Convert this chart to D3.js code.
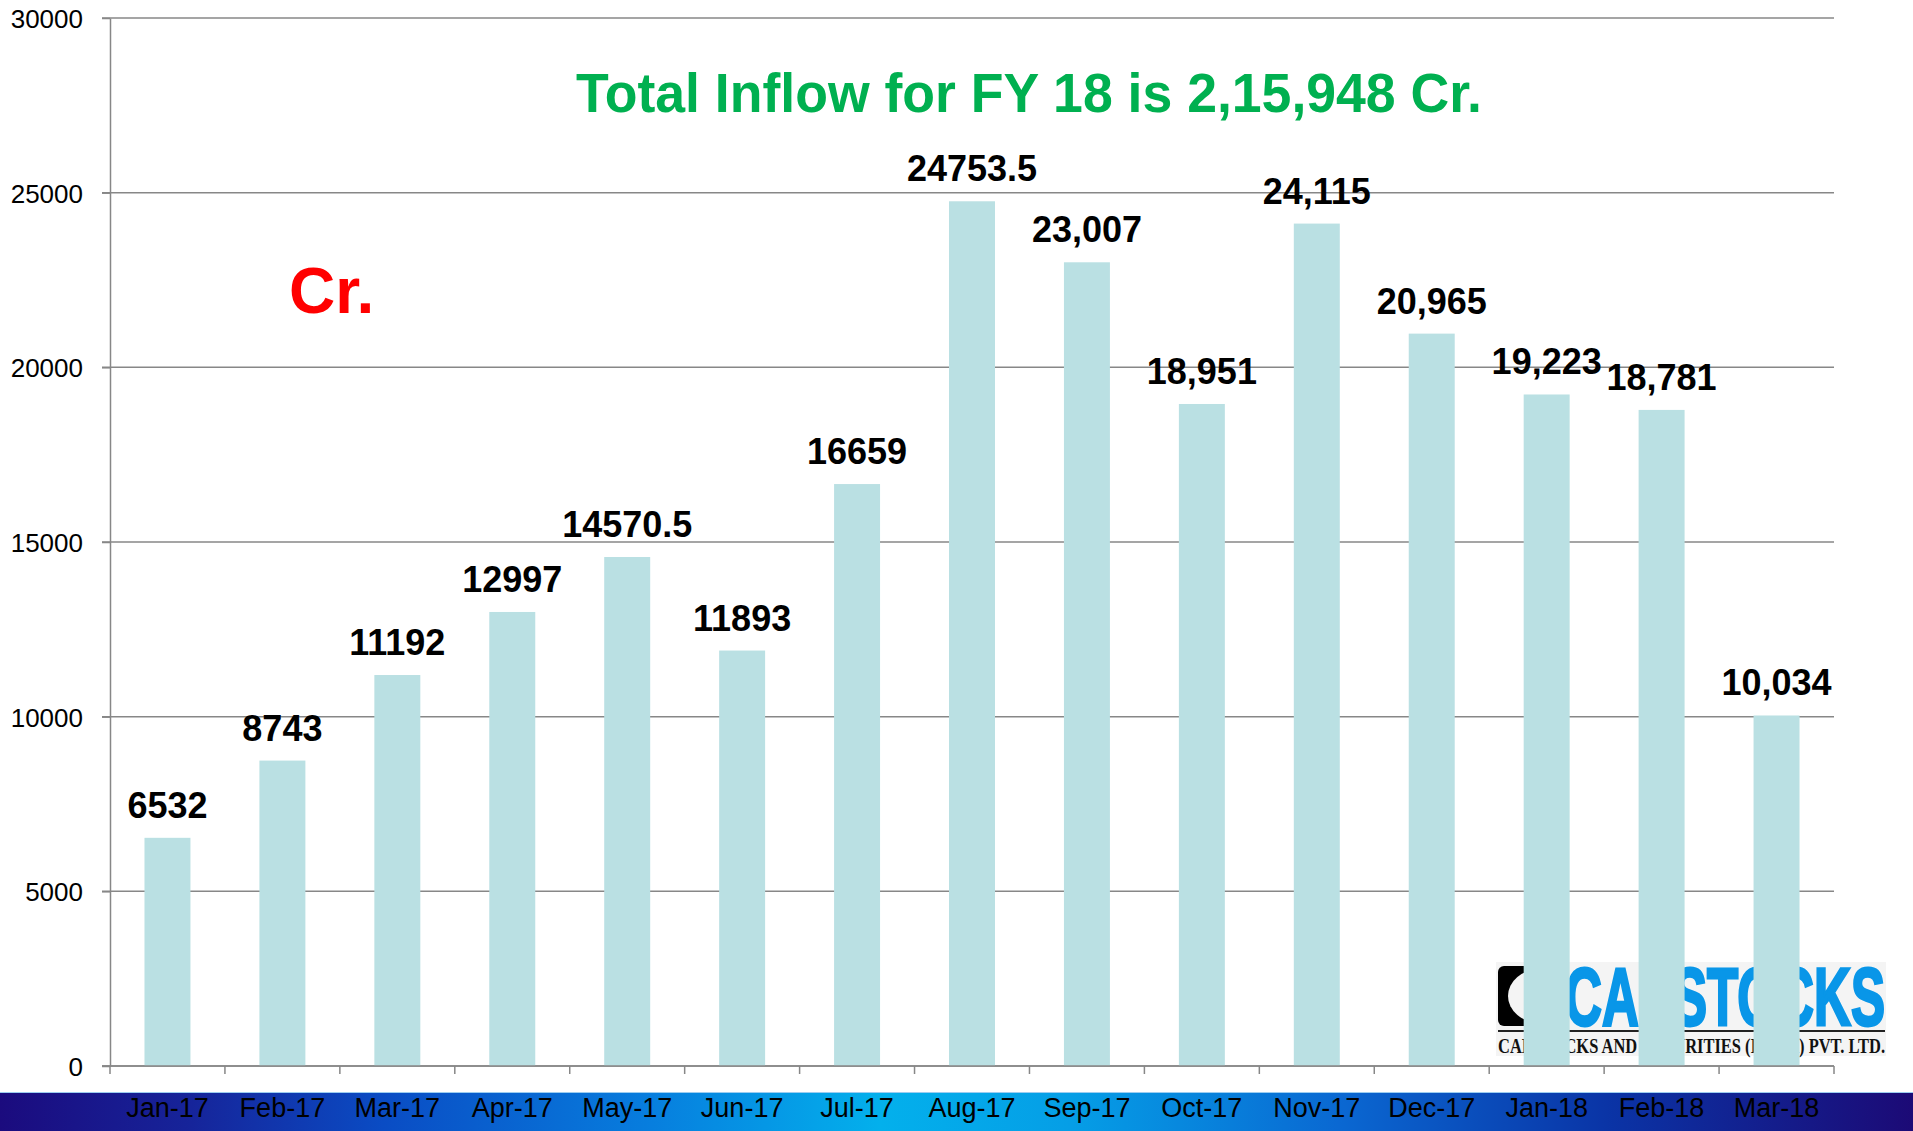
<!DOCTYPE html>
<html>
<head>
<meta charset="utf-8">
<script src="https://cdn.jsdelivr.net/npm/d3@7"></script>
<style>
  body { margin: 0; background: #fff; }
  svg { display: block; font-family: "Liberation Sans", Arial, sans-serif; }
</style>
</head>
<body>
<div id="chart"></div>
<script>
// data
const months = ["Jan-17", "Feb-17", "Mar-17", "Apr-17", "May-17", "Jun-17", "Jul-17", "Aug-17",
  "Sep-17", "Oct-17", "Nov-17", "Dec-17", "Jan-18", "Feb-18", "Mar-18"];
const inflow = [6532, 8743, 11192, 12997, 14570.5, 11893, 16659, 24753.5,
  23007, 18951, 24115, 20965, 19223, 18781, 10034];
const valueLabels = ["6532", "8743", "11192", "12997", "14570.5", "11893", "16659", "24753.5",
  "23,007", "18,951", "24,115", "20,965", "19,223", "18,781", "10,034"];
const yTicks = [0, 5000, 10000, 15000, 20000, 25000, 30000];
const titleText = "Total Inflow for FY 18 is 2,15,948 Cr.";
const unitText = "Cr.";

const width = 1913, height = 1131;
const plotLeft = 110, plotRight = 1834, plotTop = 18, plotBottom = 1066;
const gridColor = "#878787";

const svg = d3.select("#chart").append("svg")
  .attr("width", width)
  .attr("height", height);

const x = d3.scaleBand()
  .domain(months)
  .range([plotLeft, plotRight])
  .paddingInner(0.6)
  .paddingOuter(0.3);

const y = d3.scaleLinear()
  .domain([0, 30000])
  .range([plotBottom, plotTop]);

const defs = svg.append("defs");
const grad = defs.append("linearGradient").attr("id", "band");
[[0, "#1b0b7e"], [0.1, "#16249a"], [0.2, "#0a4cc4"], [0.34, "#077ede"], [0.46, "#03b0ec"],
 [0.56, "#059ee6"], [0.7, "#0a68d2"], [0.84, "#0a34a6"], [1, "#1c0a76"]]
  .forEach(([o, c]) => grad.append("stop").attr("offset", o).attr("stop-color", c));

// gridlines
svg.append("g")
  .attr("class", "grid")
  .selectAll("line")
  .data(yTicks)
  .enter().append("line")
    .attr("x1", plotLeft - 8)
    .attr("x2", plotRight)
    .attr("y1", d => y(d))
    .attr("y2", d => y(d))
    .attr("stroke", gridColor)
    .attr("stroke-width", 1.5);

// logo sits behind the bars
const logo = svg.append("g").attr("class", "logo");
logo.append("rect")
  .attr("x", 1496).attr("y", 962).attr("width", 390).attr("height", 94)
  .attr("fill", "#f4f4f4");
logo.append("rect").attr("x", 1498).attr("y", 966).attr("width", 40).attr("height", 60).attr("rx", 6).attr("fill", "#000");
logo.append("ellipse").attr("cx", 1540).attr("cy", 996).attr("rx", 32).attr("ry", 27).attr("fill", "#f4f4f4");
logo.append("text")
  .attr("x", 1565).attr("y", 1025)
  .attr("textLength", 320).attr("lengthAdjust", "spacingAndGlyphs")
  .style("font-size", "82px").style("font-weight", "bold").style("fill", "#0996e8")
  .style("stroke", "#0996e8").style("stroke-width", 3)
  .text("CAPSTOCKS");
logo.append("line")
  .attr("x1", 1498).attr("x2", 1885).attr("y1", 1031).attr("y2", 1031)
  .attr("stroke", "#222").attr("stroke-width", 2);
logo.append("text")
  .attr("x", 1498).attr("y", 1053)
  .attr("textLength", 387).attr("lengthAdjust", "spacingAndGlyphs")
  .style("font-family", "'Liberation Serif', 'DejaVu Serif', serif")
  .style("font-size", "21px").style("font-weight", "bold").style("fill", "#111")
  .text("CAPSTOCKS AND SECURITIES (INDIA) PVT. LTD.");

// bars
svg.append("g")
  .attr("class", "bars")
  .selectAll("rect")
  .data(inflow)
  .enter().append("rect")
    .attr("x", (d, i) => x(months[i]))
    .attr("y", d => y(d))
    .attr("width", x.bandwidth())
    .attr("height", d => y(0) - y(d))
    .attr("fill", "#bae0e3");

// y axis
const yAxis = svg.append("g")
  .attr("transform", `translate(${plotLeft},0)`)
  .call(d3.axisLeft(y).tickValues(yTicks).tickSizeInner(8).tickSizeOuter(0).tickPadding(19).tickFormat(d3.format("d")));
yAxis.select(".domain").attr("stroke", gridColor).attr("stroke-width", 1.5);
yAxis.selectAll(".tick line").attr("stroke", gridColor).attr("stroke-width", 1.5);
yAxis.selectAll(".tick text")
  .attr("fill", "#000")
  .style("font-size", "26px")
  .attr("dy", "0.36em");

// x axis: boundary ticks plus month labels in the bottom band
svg.append("rect")
  .attr("x", 0).attr("y", 1092).attr("width", width).attr("height", height - 1092)
  .attr("fill", "url(#band)");
svg.append("line")
  .attr("x1", 0).attr("x2", width).attr("y1", 1092.5).attr("y2", 1092.5)
  .attr("stroke", "#9ccdf0").attr("stroke-width", 1);

const xAxis = svg.append("g")
  .attr("transform", `translate(0,${plotBottom})`)
  .call(d3.axisBottom(x).tickSize(0).tickSizeOuter(0));
xAxis.select(".domain").remove();
xAxis.selectAll(".tick text")
  .attr("y", 51)
  .attr("dy", 0)
  .attr("fill", "#000")
  .style("font-size", "27px");

const step = x.step();
svg.append("line")
  .attr("x1", plotLeft - 8).attr("x2", plotRight)
  .attr("y1", plotBottom).attr("y2", plotBottom)
  .attr("stroke", gridColor).attr("stroke-width", 1.5);
svg.append("g")
  .selectAll("line")
  .data(d3.range(months.length + 1))
  .enter().append("line")
    .attr("x1", i => plotLeft + i * step)
    .attr("x2", i => plotLeft + i * step)
    .attr("y1", plotBottom)
    .attr("y2", plotBottom + 8)
    .attr("stroke", gridColor)
    .attr("stroke-width", 1.5);

// value labels
svg.append("g")
  .selectAll("text")
  .data(inflow)
  .enter().append("text")
    .attr("x", (d, i) => x(months[i]) + x.bandwidth() / 2)
    .attr("y", d => y(d) - 20)
    .attr("text-anchor", "middle")
    .style("font-size", "36px")
    .style("font-weight", "bold")
    .style("fill", "#000")
    .text((d, i) => valueLabels[i]);

// title and unit
svg.append("text")
  .attr("x", 576).attr("y", 112)
  .attr("textLength", 906).attr("lengthAdjust", "spacingAndGlyphs")
  .style("font-size", "56px").style("font-weight", "bold").style("fill", "#00b050")
  .text(titleText);

svg.append("text")
  .attr("x", 289).attr("y", 313)
  .style("font-size", "64px").style("font-weight", "bold").style("fill", "#ff0000")
  .text(unitText);
</script>
</body>
</html>
